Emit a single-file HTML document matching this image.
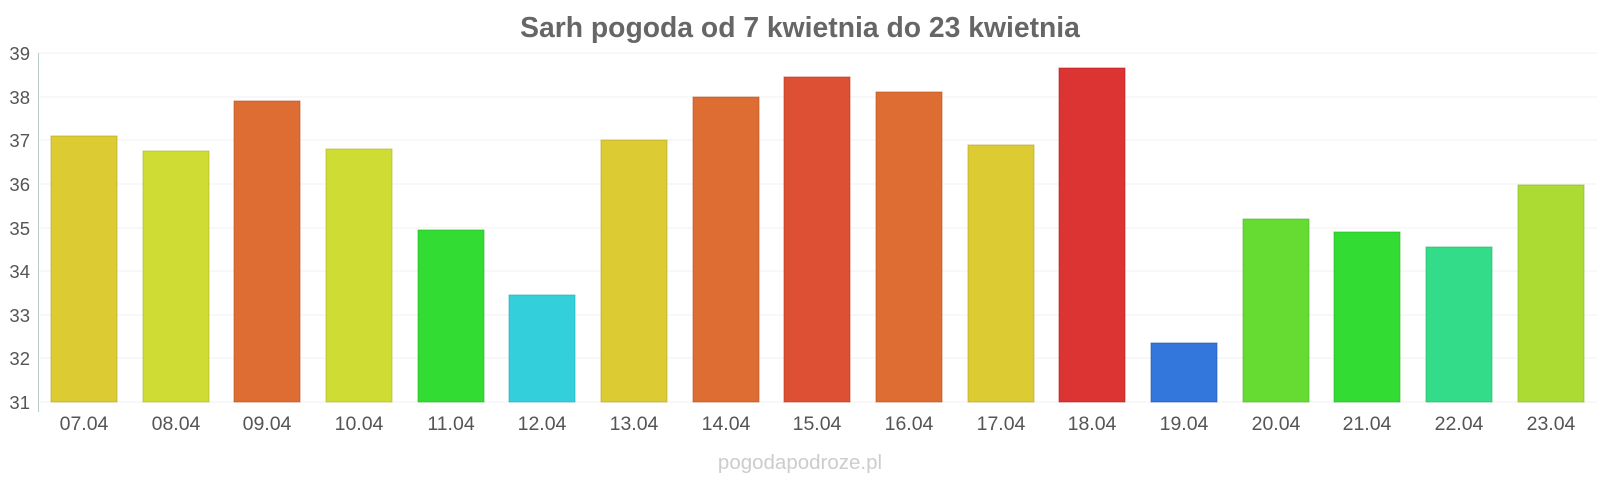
<!DOCTYPE html>
<html><head><style>body{margin:0;background:#fff}svg{display:block}</style></head><body>
<svg width="1600" height="480" xmlns="http://www.w3.org/2000/svg" font-family="Liberation Sans, sans-serif">
<text x="800" y="37" text-anchor="middle" font-size="28.3" font-weight="bold" fill="#666">Sarh pogoda od 7 kwietnia do 23 kwietnia</text>
<g stroke="#f2f2f2" stroke-width="1">
<line x1="38" x2="1597" y1="53" y2="53"/><line x1="38" x2="1597" y1="97" y2="97"/><line x1="38" x2="1597" y1="140" y2="140"/><line x1="38" x2="1597" y1="184" y2="184"/><line x1="38" x2="1597" y1="228" y2="228"/><line x1="38" x2="1597" y1="271" y2="271"/><line x1="38" x2="1597" y1="315" y2="315"/><line x1="38" x2="1597" y1="358" y2="358"/><line x1="38" x2="1597" y1="402" y2="402"/>
</g>
<line x1="38.5" x2="38.5" y1="53" y2="412" stroke="#b8cccc"/>
<g font-size="18.5" fill="#555" text-anchor="end">
<text x="30" y="60">39</text><text x="30" y="104">38</text><text x="30" y="147">37</text><text x="30" y="191">36</text><text x="30" y="235">35</text><text x="30" y="278">34</text><text x="30" y="322">33</text><text x="30" y="365">32</text><text x="30" y="409">31</text>
</g>
<g stroke-width="1" stroke-opacity="0.6">
<rect x="51" y="136" width="66" height="266" fill="#dccb33" stroke="#b0a020"/>
<rect x="143" y="151" width="66" height="251" fill="#cfdc33" stroke="#a8b020"/>
<rect x="234" y="101" width="66" height="301" fill="#dd6d33" stroke="#b05020"/>
<rect x="326" y="149" width="66" height="253" fill="#cfdc33" stroke="#a8b020"/>
<rect x="418" y="230" width="66" height="172" fill="#33dc33" stroke="#20b020"/>
<rect x="509" y="295" width="66" height="107" fill="#33d0dc" stroke="#20a8b0"/>
<rect x="601" y="140" width="66" height="262" fill="#dccb33" stroke="#b0a020"/>
<rect x="693" y="97" width="66" height="305" fill="#dd6d33" stroke="#b05020"/>
<rect x="784" y="77" width="66" height="325" fill="#dd5033" stroke="#b03820"/>
<rect x="876" y="92" width="66" height="310" fill="#dd6d33" stroke="#b05020"/>
<rect x="968" y="145" width="66" height="257" fill="#dccb33" stroke="#b0a020"/>
<rect x="1059" y="68" width="66" height="334" fill="#dc3333" stroke="#b02020"/>
<rect x="1151" y="343" width="66" height="59" fill="#3377dc" stroke="#2050b0"/>
<rect x="1243" y="219" width="66" height="183" fill="#66dc33" stroke="#40b020"/>
<rect x="1334" y="232" width="66" height="170" fill="#33dc33" stroke="#20b020"/>
<rect x="1426" y="247" width="66" height="155" fill="#33dc88" stroke="#20b060"/>
<rect x="1518" y="185" width="66" height="217" fill="#acdc33" stroke="#80b020"/>
</g>
<g font-size="19.5" fill="#555" text-anchor="middle">
<text x="84" y="430">07.04</text><text x="176" y="430">08.04</text><text x="267" y="430">09.04</text><text x="359" y="430">10.04</text><text x="451" y="430">11.04</text><text x="542" y="430">12.04</text><text x="634" y="430">13.04</text><text x="726" y="430">14.04</text><text x="817" y="430">15.04</text><text x="909" y="430">16.04</text><text x="1001" y="430">17.04</text><text x="1092" y="430">18.04</text><text x="1184" y="430">19.04</text><text x="1276" y="430">20.04</text><text x="1367" y="430">21.04</text><text x="1459" y="430">22.04</text><text x="1551" y="430">23.04</text>
</g>
<text x="800" y="469" text-anchor="middle" font-size="20.5" fill="#ccc">pogodapodroze.pl</text>
</svg>
</body></html>
